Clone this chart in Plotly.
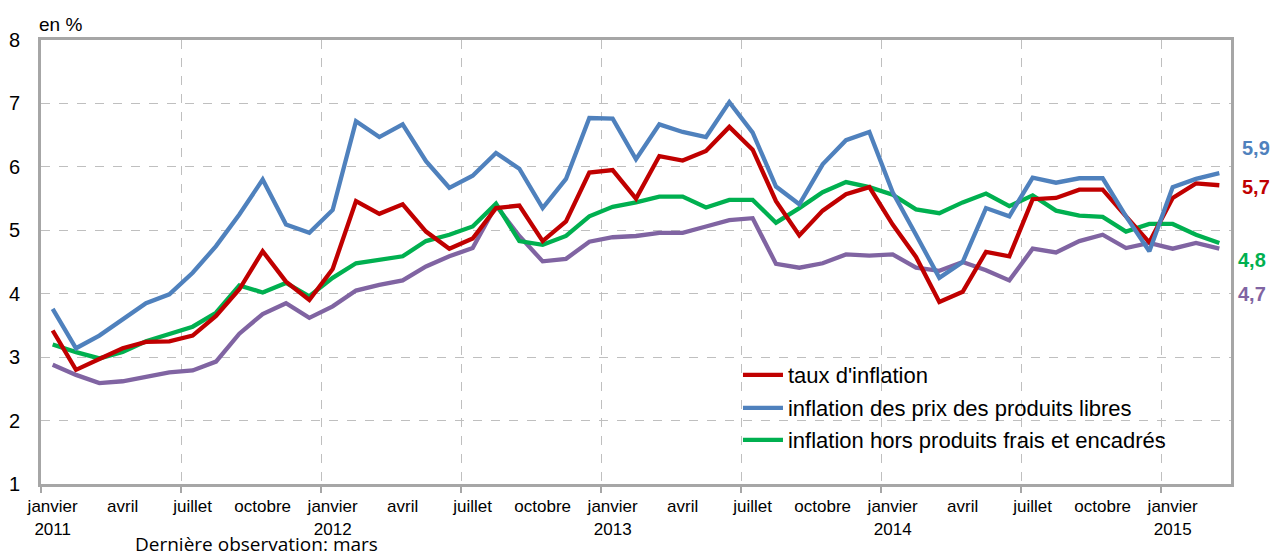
import plotly.graph_objects as go

months = ["janvier", "février", "mars", "avril", "mai", "juin", "juillet", "août",
          "septembre", "octobre", "novembre", "décembre"]
years = [2011, 2012, 2013, 2014, 2015]
n_obs = 51  # janvier 2011 -> mars 2015

taux = [3.42, 2.80, 2.97, 3.14, 3.24, 3.25, 3.34, 3.65, 4.07, 4.67, 4.19, 3.90,
        4.39, 5.46, 5.26, 5.41, 4.98, 4.71, 4.87, 5.35, 5.39, 4.83, 5.14, 5.91,
        5.95, 5.50, 6.17, 6.10, 6.25, 6.63, 6.27, 5.46, 4.92, 5.31, 5.57, 5.68,
        5.09, 4.58, 3.87, 4.03, 4.66, 4.59, 5.49, 5.51, 5.64, 5.64, 5.22, 4.81,
        5.51, 5.74, 5.71]
libres = [3.76, 3.14, 3.34, 3.60, 3.85, 3.99, 4.33, 4.75, 5.25, 5.80, 5.09, 4.96,
          5.32, 6.72, 6.47, 6.67, 6.09, 5.67, 5.86, 6.22, 5.97, 5.35, 5.81, 6.77,
          6.76, 6.12, 6.67, 6.55, 6.47, 7.02, 6.54, 5.69, 5.41, 6.04, 6.42, 6.55,
          5.60, 4.93, 4.25, 4.50, 5.35, 5.22, 5.83, 5.75, 5.82, 5.82, 5.22, 4.67,
          5.68, 5.81, 5.90]
hors = [3.20, 3.08, 2.98, 3.08, 3.25, 3.37, 3.48, 3.70, 4.13, 4.02, 4.17, 3.96,
        4.25, 4.48, 4.54, 4.59, 4.83, 4.93, 5.06, 5.42, 4.83, 4.77, 4.91, 5.22,
        5.37, 5.44, 5.53, 5.53, 5.36, 5.48, 5.48, 5.12, 5.35, 5.60, 5.76, 5.68,
        5.56, 5.33, 5.27, 5.44, 5.58, 5.38, 5.55, 5.31, 5.23, 5.21, 4.98, 5.10,
        5.10, 4.93, 4.80]
autre = [2.88, 2.72, 2.59, 2.62, 2.69, 2.76, 2.79, 2.93, 3.37, 3.68, 3.85, 3.62,
         3.80, 4.05, 4.14, 4.21, 4.43, 4.59, 4.72, 5.39, 4.91, 4.51, 4.55, 4.82,
         4.89, 4.91, 4.96, 4.96, 5.06, 5.16, 5.19, 4.47, 4.41, 4.48, 4.62, 4.60,
         4.62, 4.41, 4.36, 4.50, 4.37, 4.21, 4.71, 4.65, 4.83, 4.93, 4.72, 4.80,
         4.71, 4.80, 4.71]

x = list(range(n_obs))
tick_vals = list(range(0, n_obs, 3))
tick_text = []
for v in tick_vals:
    m = months[v % 12]
    if v % 12 == 0:
        tick_text.append(f"{m}<br>{years[v // 12]}")
    else:
        tick_text.append(m)

RED, BLUE, GREEN, PURPLE = "#C00000", "#4F81BD", "#00B050", "#8064A2"
SANS = "Liberation Sans, Arial, sans-serif"

fig = go.Figure()
# draw order: purple (no legend), green, red, blue
fig.add_trace(go.Scatter(x=x, y=autre, mode="lines", name="autre",
                         line=dict(color=PURPLE, width=4.3), showlegend=False))
fig.add_trace(go.Scatter(x=x, y=hors, mode="lines", name="inflation hors produits frais et encadrés",
                         line=dict(color=GREEN, width=4.3), legend="legend3"))
fig.add_trace(go.Scatter(x=x, y=taux, mode="lines", name="taux d'inflation",
                         line=dict(color=RED, width=4.3), legend="legend"))
fig.add_trace(go.Scatter(x=x, y=libres, mode="lines", name="inflation des prix des produits libres",
                         line=dict(color=BLUE, width=4.3), legend="legend2"))

# end labels
end_specs = [(libres, BLUE, 25, 21), (taux, RED, -2, 21), (hors, GREEN, -17, 17), (autre, PURPLE, -45, 17)]
for vals, col, ysh, xsh in end_specs:
    fig.add_annotation(x=x[-1], y=vals[-1], text=f"<b>{vals[-1]:.1f}</b>".replace(".", ","),
                       showarrow=False, xanchor="left", yanchor="middle",
                       xshift=xsh, yshift=ysh, font=dict(family=SANS, size=20, color=col))

fig.add_annotation(xref="paper", yref="paper", x=-0.003, y=1.006, text="en %", showarrow=False,
                   xanchor="left", yanchor="bottom", font=dict(family=SANS, size=19, color="black"))
fig.add_annotation(xref="paper", yref="paper", x=0.077, y=-0.1689,
                   text="Dernière observation: mars",
                   showarrow=False, xanchor="left", yanchor="bottom",
                   font=dict(family="Open Sans, Liberation Sans", size=19, color="black"))

leg_common = dict(x=0.5857, xanchor="left", yanchor="middle", bgcolor="rgba(0,0,0,0)",
                  font=dict(family=SANS, size=22, color="black"), itemwidth=40)

fig.update_layout(
    width=1271, height=551,
    margin=dict(l=33, r=48, t=32, b=75),
    plot_bgcolor="white", paper_bgcolor="white",
    showlegend=True,
    legend=dict(y=0.2455, **leg_common),
    legend2=dict(y=0.171, **leg_common),
    legend3=dict(y=0.099, **leg_common),
    xaxis=dict(range=[-0.5, n_obs - 0.5], tickvals=tick_vals, ticktext=tick_text,
               automargin=False, showgrid=False, ticks="", zeroline=False,
               showline=True, linecolor="#A6A6A6", linewidth=3, mirror=True,
               ticklabelstandoff=5,
               tickfont=dict(family=SANS, size=17, color="black"),
               minor=dict(tick0=-0.5, dtick=6, showgrid=True, gridcolor="#BFBFBF",
                          griddash="dash", gridwidth=1, ticks="outside", ticklen=6,
                          tickcolor="#A6A6A6", tickwidth=1.5)),
    yaxis=dict(range=[1, 8], dtick=1, showgrid=True, gridcolor="#BFBFBF", griddash="dash",
               gridwidth=1, zeroline=False, ticks="", automargin=False,
               showline=True, linecolor="#A6A6A6", linewidth=3, mirror=True,
               ticklabelstandoff=14,
               tickfont=dict(family=SANS, size=20, color="black")),
)

fig.write_html("out.html")
